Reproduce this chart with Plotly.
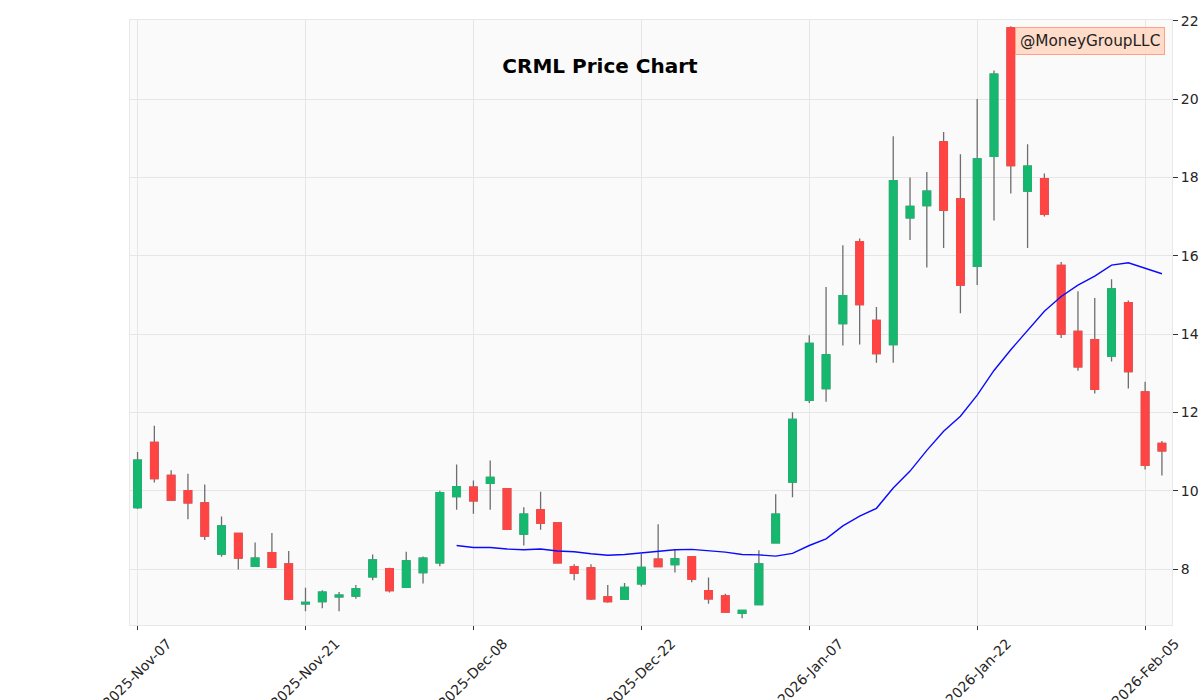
import plotly.graph_objects as go

# Session index; only every tenth session carries a date label
sessions = list(range(62))
tick_positions = [0, 10, 20, 30, 40, 50, 60]
tick_labels = ["2025-Nov-07", "2025-Nov-21", "2025-Dec-08", "2025-Dec-22",
               "2026-Jan-07", "2026-Jan-22", "2026-Feb-05"]
y_ticks = [8, 10, 12, 14, 16, 18, 20, 22]

open_prices = [9.57, 11.23, 10.39, 10.00, 9.69, 8.38, 8.91, 8.07, 8.42, 8.13,
               7.11, 7.17, 7.29, 7.31, 7.80, 8.01, 7.53, 7.91, 8.16, 9.85,
               10.09, 10.19, 10.05, 8.89, 9.51, 9.18, 8.06, 8.03, 7.29, 7.23,
               7.62, 8.25, 8.11, 8.31, 7.45, 7.31, 6.87, 7.09, 8.67, 10.22,
               12.31, 12.61, 14.27, 16.36, 14.35, 13.73, 16.97, 17.28, 18.91, 17.45,
               15.73, 18.54, 21.82, 17.65, 17.97, 15.75, 14.07, 13.86, 13.44, 14.80,
               12.52, 11.21]
high_prices = [10.99, 11.66, 10.52, 10.43, 10.16, 9.34, 8.91, 8.68, 8.92, 8.46,
               7.52, 7.46, 7.41, 7.59, 8.37, 8.03, 8.44, 8.32, 10.00, 10.67,
               10.26, 10.77, 10.05, 9.58, 9.97, 9.18, 8.12, 8.12, 7.59, 7.64,
               8.38, 9.14, 8.49, 8.31, 7.78, 7.37, 6.96, 8.48, 9.91, 12.00,
               13.97, 15.20, 16.27, 16.44, 14.69, 19.05, 18.00, 18.14, 19.16, 18.59,
               20.00, 20.73, 21.86, 18.85, 18.10, 15.84, 15.09, 14.92, 15.40, 14.86,
               12.78, 11.27]
low_prices = [9.53, 10.21, 9.76, 9.27, 8.74, 8.31, 7.99, 8.07, 8.02, 7.20,
              6.92, 7.00, 6.92, 7.24, 7.71, 7.40, 7.53, 7.63, 8.07, 9.51,
              9.41, 9.51, 9.01, 8.60, 9.00, 8.14, 7.71, 7.21, 7.14, 7.21,
              7.55, 8.06, 7.91, 7.66, 7.11, 6.90, 6.74, 7.09, 8.67, 9.83,
              12.24, 12.27, 13.71, 13.73, 13.27, 13.27, 16.40, 15.70, 16.20, 14.53,
              15.25, 16.90, 17.59, 16.20, 17.00, 13.90, 13.06, 12.48, 13.30, 12.61,
              10.54, 10.39]
close_prices = [10.78, 10.31, 9.76, 9.69, 8.84, 9.10, 8.28, 8.28, 8.04, 7.23,
                7.15, 7.41, 7.33, 7.49, 8.23, 7.45, 8.21, 8.28, 9.95, 10.10,
                9.74, 10.34, 9.01, 9.40, 9.17, 8.16, 7.89, 7.24, 7.17, 7.53,
                8.04, 8.06, 8.26, 7.74, 7.24, 6.90, 6.94, 8.13, 9.40, 11.82,
                13.76, 13.47, 14.98, 14.75, 13.50, 17.92, 17.26, 17.65, 17.16, 15.25,
                18.47, 20.64, 18.30, 18.29, 17.06, 14.00, 13.16, 12.59, 15.15, 13.04,
                10.65, 11.02]
# 20-session moving average, defined from session 19 on
ma_sessions = list(range(19, 62))
ma_values = [8.60, 8.55, 8.55, 8.51, 8.49, 8.51, 8.46, 8.44, 8.39, 8.35,
             8.37, 8.41, 8.44, 8.49, 8.50, 8.46, 8.43, 8.37, 8.36, 8.33,
             8.40, 8.60, 8.77, 9.10, 9.35, 9.55, 10.07, 10.50, 11.03, 11.52,
             11.90, 12.44, 13.07, 13.60, 14.10, 14.58, 14.96, 15.25, 15.48, 15.76,
             15.82, 15.67, 15.54]

GREEN = "#16b76f"
RED = "#ff4444"
WICK = "#6e6e6e"
FONT = "DejaVu Sans"
body_tops = [max(o, c) for o, c in zip(open_prices, close_prices)]
body_bottoms = [min(o, c) for o, c in zip(open_prices, close_prices)]

fig = go.Figure()
# Wicks: full range, grey
fig.add_trace(go.Candlestick(
    x=sessions, open=open_prices, high=high_prices, low=low_prices, close=close_prices,
    whiskerwidth=0, showlegend=False, hoverinfo="skip",
    increasing=dict(line=dict(color=WICK, width=1.3), fillcolor=WICK),
    decreasing=dict(line=dict(color=WICK, width=1.3), fillcolor=WICK),
))
# Bodies: same open/close without wicks, drawn above the grey
fig.add_trace(go.Candlestick(
    x=sessions, open=open_prices, high=body_tops, low=body_bottoms, close=close_prices,
    whiskerwidth=0, showlegend=False,
    increasing=dict(line=dict(color=GREEN, width=1.3), fillcolor=GREEN),
    decreasing=dict(line=dict(color=RED, width=1.3), fillcolor=RED),
))
fig.add_trace(go.Scatter(
    x=ma_sessions, y=ma_values, mode="lines", showlegend=False,
    line=dict(color="#0a0aff", width=1.4),
))

fig.update_layout(
    width=1200, height=700, autosize=False,
    margin=dict(l=129.5, r=28, t=20, b=75),
    paper_bgcolor="white", plot_bgcolor="#fafafa",
    font=dict(family=FONT, size=14, color="#262626"),
    boxgap=0.36, showlegend=False,
    title=dict(text="<b>CRML Price Chart</b>", x=0.5, xanchor="center", xref="container",
               y=0.9055, yanchor="middle", font=dict(family=FONT, size=20, color="black")),
    xaxis=dict(range=[-0.45, 61.6], tickmode="array", tickvals=tick_positions, ticktext=tick_labels,
               tickangle=-45, ticks="outside", ticklen=4, tickcolor="#333", tickwidth=1.2,
               showgrid=True, gridcolor="#e6e6e6", gridwidth=1.3, zeroline=False,
               showline=True, linecolor="#e8e8e8", linewidth=1, mirror=True,
               rangeslider=dict(visible=False), automargin=False, ticklabelshift=30),
    yaxis=dict(range=[6.57, 22.02], side="right", tickmode="array", tickvals=y_ticks,
               ticks="outside", ticklen=5, tickcolor="#333", tickwidth=1.2,
               showgrid=True, gridcolor="#e6e6e6", gridwidth=1.3, zeroline=False,
               showline=True, linecolor="#e8e8e8", linewidth=1, mirror=True,
               automargin=False),
    annotations=[dict(text="@MoneyGroupLLC", xref="paper", yref="paper",
                      x=0.9935, y=0.9885, xanchor="right", yanchor="top", showarrow=False,
                      font=dict(family=FONT, size=15.3, color="#222"),
                      bgcolor="rgba(255,214,192,0.85)", bordercolor="#ff9f85", borderwidth=1, borderpad=4)],
)
# Page body flush with the window so the 1200x700 figure fills it exactly
fig.write_html("out.html", config=dict(displayModeBar=False),
               post_script="document.body.style.margin='0';")
